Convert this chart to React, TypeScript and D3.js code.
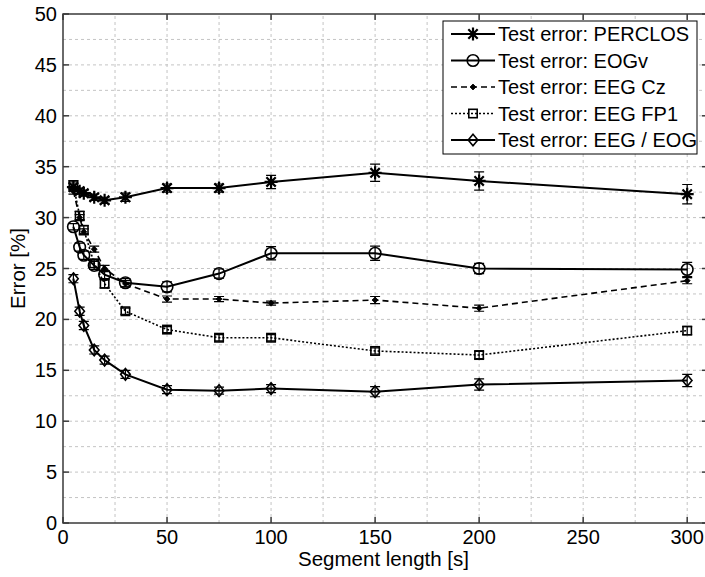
import React from "react";
import * as d3 from "d3";

const X = [5, 8, 10, 15, 20, 30, 50, 75, 100, 150, 200, 300];
const perclos = [33.0, 32.6, 32.4, 32.0, 31.7, 32.0, 32.9, 32.9, 33.5, 34.4, 33.6, 32.3];
const perclosErr = [0.4, 0.3, 0.3, 0.3, 0.3, 0.4, 0.4, 0.4, 0.65, 0.85, 0.9, 0.95];
const eogv = [29.1, 27.1, 26.3, 25.3, 24.4, 23.6, 23.2, 24.5, 26.5, 26.5, 25.0, 24.9];
const eogvErr = [0.3, 0.4, 0.4, 0.4, 0.4, 0.4, 0.5, 0.45, 0.65, 0.7, 0.5, 0.7];
const cz = [32.6, 30.0, 28.6, 26.9, 25.0, 23.5, 22.0, 22.0, 21.6, 21.9, 21.1, 23.8];
const czErr = [0.3, 0.3, 0.3, 0.3, 0.3, 0.3, 0.3, 0.25, 0.2, 0.35, 0.3, 0.3];
const fp1 = [33.2, 30.2, 28.8, 25.5, 23.5, 20.8, 19.0, 18.2, 18.2, 16.9, 16.5, 18.9];
const fp1Err = [0.4, 0.4, 0.4, 0.4, 0.4, 0.3, 0.3, 0.3, 0.3, 0.3, 0.35, 0.4];
const eegEog = [24.0, 20.8, 19.4, 17.0, 16.0, 14.6, 13.1, 13.0, 13.2, 12.9, 13.6, 14.0];
const eegEogErr = [0.4, 0.4, 0.4, 0.4, 0.4, 0.4, 0.4, 0.35, 0.4, 0.5, 0.55, 0.6];

const xTicks = [0, 50, 100, 150, 200, 250, 300];
const yTicks = [0, 5, 10, 15, 20, 25, 30, 35, 40, 45, 50];
const legendLabels = [
  "Test error: PERCLOS",
  "Test error: EOGv",
  "Test error: EEG Cz",
  "Test error: EEG FP1",
  "Test error: EEG / EOG",
];

const W = 705;
const H = 577;
const FONT = "'Liberation Sans', Arial, Helvetica, sans-serif";

type MarkerKind = "star" | "circle" | "dot" | "square" | "diamond";

function Marker({ kind, cx, cy }: { kind: MarkerKind; cx: number; cy: number }) {
  if (kind === "star") {
    const s = 6.5;
    const d = s * 0.72;
    return (
      <path
        d={`M${cx - s},${cy}H${cx + s}M${cx},${cy - s}V${cy + s}M${cx - d},${cy - d}L${cx + d},${cy + d}M${cx - d},${cy + d}L${cx + d},${cy - d}`}
        stroke="#000"
        strokeWidth={2.2}
        fill="none"
      />
    );
  }
  if (kind === "circle") {
    return <circle cx={cx} cy={cy} r={5.8} stroke="#000" strokeWidth={1.6} fill="none" />;
  }
  if (kind === "dot") {
    const s = 3;
    return <path d={`M${cx},${cy - s}L${cx + s},${cy}L${cx},${cy + s}L${cx - s},${cy}Z`} fill="#000" stroke="#000" strokeWidth={0.8} />;
  }
  if (kind === "square") {
    const s = 4.2;
    return <rect x={cx - s} y={cy - s} width={2 * s} height={2 * s} stroke="#000" strokeWidth={1.6} fill="none" />;
  }
  const w = 4.8;
  const h = 5.8;
  return (
    <path
      d={`M${cx},${cy - h}L${cx + w},${cy}L${cx},${cy + h}L${cx - w},${cy}Z`}
      stroke="#000"
      strokeWidth={1.6}
      fill="none"
    />
  );
}

const series = [
  { vals: perclos, err: perclosErr, kind: "star" as MarkerKind, dash: "none", width: 2 },
  { vals: eogv, err: eogvErr, kind: "circle" as MarkerKind, dash: "none", width: 2 },
  { vals: cz, err: czErr, kind: "dot" as MarkerKind, dash: "6,4", width: 1.6 },
  { vals: fp1, err: fp1Err, kind: "square" as MarkerKind, dash: "2,2", width: 1.6 },
  { vals: eegEog, err: eegEogErr, kind: "diamond" as MarkerKind, dash: "none", width: 2 },
];

export default function App() {
  const x = d3.scaleLinear().domain([0, 310]).range([63, 708]);
  const y = d3.scaleLinear().domain([0, 50]).range([523, 14]);
  const line = d3
    .line<[number, number]>()
    .x((d) => x(d[0]))
    .y((d) => y(d[1]));

  const xGrid = d3.range(25, 310, 25);
  const yGrid = d3.range(2.5, 50, 2.5);
  const [x0, x1] = x.range();
  const [y0, y1] = y.range();
  const tickLen = 6;
  const axisColor = "#3a3a3a";

  const legX = 443;
  const legY = 21;
  const legW = 254;
  const legH = 133;
  const rowY = (i: number) => 34 + i * 26.5;

  return (
    <svg
      width={W}
      height={H}
      viewBox={`0 0 ${W} ${H}`}
      style={{ position: "absolute", left: 0, top: 0, background: "#fff" }}
      fontFamily={FONT}
    >
      <rect x={0} y={0} width={W} height={H} fill="#fff" />
      {/* grid */}
      <g stroke="#c4c4c4" strokeWidth={1} strokeDasharray="3,3">
        {xGrid.map((g) => (
          <line key={"gx" + g} x1={x(g)} x2={x(g)} y1={y0} y2={y1} />
        ))}
        {yGrid.map((g) => (
          <line key={"gy" + g} x1={x0} x2={x1} y1={y(g)} y2={y(g)} />
        ))}
      </g>

      {/* series */}
      {series.map((s, si) => {
        const pts: [number, number][] = X.map((xv, i) => [xv, s.vals[i]]);
        return (
          <g key={"s" + si}>
            <path
              d={line(pts) || ""}
              fill="none"
              stroke="#000"
              strokeWidth={s.width}
              strokeDasharray={s.dash}
            />
            {X.map((xv, i) => {
              const cx = x(xv);
              const top = y(s.vals[i] + s.err[i]);
              const bot = y(s.vals[i] - s.err[i]);
              const cap = 5;
              return (
                <g key={"e" + i}>
                  <path
                    d={`M${cx},${top}V${bot}M${cx - cap},${top}H${cx + cap}M${cx - cap},${bot}H${cx + cap}`}
                    stroke="#000"
                    strokeWidth={1.2}
                    fill="none"
                  />
                  <Marker kind={s.kind} cx={cx} cy={y(s.vals[i])} />
                </g>
              );
            })}
          </g>
        );
      })}

      {/* axes box and ticks */}
      <g stroke={axisColor} strokeWidth={1.5} fill="none">
        <rect x={x0} y={y1} width={x1 - x0} height={y0 - y1} />
        {xTicks.map((t) => (
          <g key={"xt" + t}>
            <line x1={x(t)} x2={x(t)} y1={y0} y2={y0 - tickLen} />
            <line x1={x(t)} x2={x(t)} y1={y1} y2={y1 + tickLen} />
          </g>
        ))}
        {yTicks.map((t) => (
          <g key={"yt" + t}>
            <line x1={x0} x2={x0 + tickLen} y1={y(t)} y2={y(t)} />
            <line x1={x1} x2={x1 - tickLen} y1={y(t)} y2={y(t)} />
          </g>
        ))}
      </g>

      {/* tick labels */}
      <g fontSize={20} fill="#000">
        {xTicks.map((t) => (
          <text key={"xl" + t} x={x(t)} y={y0 + 21} textAnchor="middle">
            {t}
          </text>
        ))}
        {yTicks.map((t) => (
          <text key={"yl" + t} x={x0 - 6} y={y(t) + 7} textAnchor="end">
            {t}
          </text>
        ))}
      </g>

      {/* axis titles */}
      <text x={(x0 + 708) / 2 - 2} y={566} textAnchor="middle" fontSize={20.5}>
        Segment length [s]
      </text>
      <text
        transform={`translate(25,${(y0 + y1) / 2}) rotate(-90)`}
        textAnchor="middle"
        fontSize={20.5}
      >
        Error [%]
      </text>

      {/* legend */}
      <g>
        <rect x={legX} y={legY} width={legW} height={legH} fill="#fff" stroke="#000" strokeWidth={1} />
        {series.map((s, i) => (
          <g key={"lg" + i}>
            <line
              x1={451}
              x2={495}
              y1={rowY(i)}
              y2={rowY(i)}
              stroke="#000"
              strokeWidth={s.width}
              strokeDasharray={s.dash}
            />
            <Marker kind={s.kind} cx={473} cy={rowY(i)} />
            <text x={498} y={rowY(i) + 7} fontSize={20}>
              {legendLabels[i]}
            </text>
          </g>
        ))}
      </g>
    </svg>
  );
}
